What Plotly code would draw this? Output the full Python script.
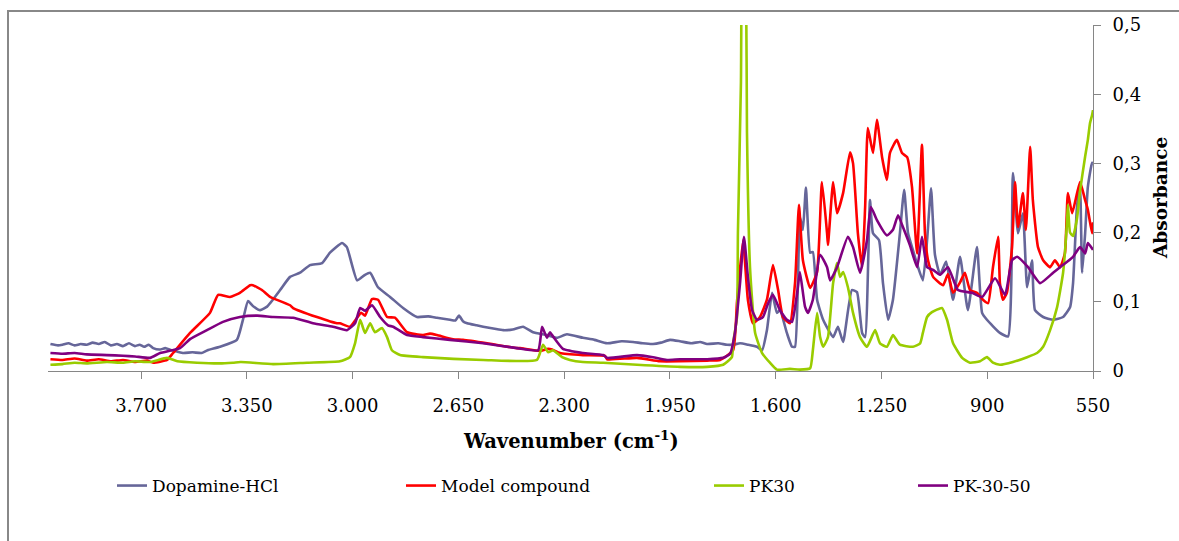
import plotly.graph_objects as go

# ---------------- data ----------------
series_names = ["Dopamine-HCl", "Model compound", "PK30", "PK-30-50"]
series_colors = ["#666699", "#FF0000", "#99CC00", "#800080"]

wn_dop = [4000, 3975, 3960, 3940, 3920, 3900, 3880, 3860, 3840, 3820, 3800, 3780, 3760, 3740, 3720, 3705, 3690, 3675, 3660, 3637,
          3620, 3600, 3580, 3560, 3530, 3500, 3480, 3439, 3383, 3363, 3346,
          3330, 3306, 3283, 3273, 3240, 3207, 3174, 3141, 3101, 3075, 3035, 3019, 2985, 2959, 2942, 2916, 2876, 2833, 2787, 2750, 2721,
          2678, 2660, 2648, 2635, 2621, 2590, 2568, 2530, 2502, 2470, 2436, 2403, 2357, 2324, 2291, 2238, 2200, 2158, 2110, 2072, 2040, 2006, 1980, 1950, 1917, 1880, 1850, 1827, 1790, 1761,
          1741, 1718, 1692, 1662, 1645, 1629, 1612, 1596, 1586, 1563, 1546, 1536, 1520, 1510, 1500, 1486, 1477, 1463, 1443, 1410,
          1394, 1377, 1348, 1331, 1314, 1304, 1288, 1278, 1258, 1245, 1228, 1212, 1189, 1175, 1162, 1146, 1129, 1113, 1099, 1086,
          1073, 1056, 1036, 1013, 990, 964, 934, 917, 901, 858, 831, 815, 798, 782, 768, 752, 742, 715, 682, 649,
          626, 616, 603, 593, 586, 576, 567, 553, 550]
abs_dop = [0.039, 0.037, 0.038, 0.040, 0.037, 0.039, 0.038, 0.041, 0.039, 0.042, 0.037, 0.039, 0.036, 0.040, 0.036, 0.038, 0.035, 0.038, 0.033, 0.031,
           0.033, 0.030, 0.028, 0.026, 0.027, 0.026, 0.030, 0.035, 0.045, 0.074, 0.101,
           0.094, 0.088, 0.093, 0.098, 0.117, 0.136, 0.142, 0.153, 0.156, 0.171, 0.185, 0.179, 0.131, 0.139, 0.142, 0.121, 0.107, 0.091, 0.078, 0.079, 0.077,
           0.074, 0.073, 0.080, 0.072, 0.069, 0.066, 0.064, 0.061, 0.059, 0.060, 0.064, 0.056, 0.052, 0.048, 0.053, 0.048, 0.045, 0.040, 0.043, 0.042, 0.040, 0.039, 0.041, 0.045, 0.043, 0.040, 0.042, 0.039, 0.040, 0.038,
           0.038, 0.040, 0.038, 0.035, 0.030, 0.059, 0.113, 0.084, 0.088, 0.055, 0.035, 0.035, 0.223, 0.204, 0.265, 0.171, 0.172, 0.103, 0.074, 0.049,
           0.064, 0.042, 0.117, 0.114, 0.055, 0.049, 0.247, 0.199, 0.189, 0.127, 0.074, 0.103, 0.199, 0.262, 0.199, 0.175, 0.150, 0.131, 0.189, 0.264,
           0.168, 0.139, 0.158, 0.103, 0.165, 0.088, 0.179, 0.084, 0.074, 0.055, 0.050, 0.286, 0.199, 0.228, 0.121, 0.160, 0.088, 0.078, 0.074, 0.078,
           0.092, 0.127, 0.237, 0.266, 0.142, 0.199, 0.266, 0.301, 0.300]

wn_mod = [4000, 3960, 3920, 3880, 3840, 3800, 3760, 3720, 3680, 3660, 3614, 3594, 3538, 3472, 3445, 3406, 3373, 3339, 3330, 3300,
          3273, 3263, 3207, 3197, 3118, 3052, 3042, 3009, 2972, 2959, 2936, 2916, 2886, 2860, 2820, 2767, 2744, 2721, 2668, 2635,
          2555, 2456, 2446, 2380, 2353, 2340, 2314, 2238, 2165, 2158, 2059, 1983, 1917, 1827, 1784, 1741, 1728, 1708, 1692, 1675,
          1652, 1629, 1609, 1592, 1576, 1553, 1536, 1523, 1510, 1486, 1463, 1447, 1430, 1427, 1410, 1397, 1377, 1354, 1344, 1328,
          1314, 1304, 1295, 1278, 1265, 1248, 1232, 1222, 1199, 1182, 1165, 1149, 1132, 1116, 1106, 1096, 1079, 1046, 1030, 1013,
          990, 974, 957, 934, 914, 897, 881, 864, 858, 848, 835, 818, 808, 798, 782, 772, 758, 749, 732, 715,
          692, 676, 659, 643, 633, 619, 593, 576, 567, 553, 550]
abs_mod = [0.017, 0.016, 0.018, 0.015, 0.017, 0.014, 0.016, 0.013, 0.015, 0.012, 0.016, 0.026, 0.055, 0.084, 0.110, 0.107, 0.113, 0.124, 0.124, 0.117,
           0.107, 0.105, 0.095, 0.091, 0.078, 0.069, 0.069, 0.064, 0.084, 0.080, 0.104, 0.103, 0.078, 0.077, 0.056, 0.052, 0.054, 0.052, 0.046, 0.045,
           0.040, 0.033, 0.033, 0.029, 0.032, 0.031, 0.026, 0.023, 0.022, 0.017, 0.019, 0.014, 0.014, 0.015, 0.016, 0.030, 0.100, 0.189, 0.103, 0.069,
           0.078, 0.103, 0.153, 0.117, 0.078, 0.069, 0.127, 0.240, 0.160, 0.120, 0.143, 0.273, 0.199, 0.182, 0.273, 0.228, 0.257, 0.316, 0.300, 0.199,
           0.150, 0.237, 0.351, 0.315, 0.363, 0.309, 0.276, 0.315, 0.334, 0.315, 0.309, 0.266, 0.170, 0.327, 0.199, 0.160, 0.136, 0.124, 0.140, 0.113,
           0.128, 0.142, 0.117, 0.113, 0.103, 0.098, 0.150, 0.194, 0.127, 0.103, 0.113, 0.179, 0.273, 0.208, 0.257, 0.204, 0.324, 0.247, 0.179, 0.160,
           0.150, 0.160, 0.150, 0.170, 0.257, 0.228, 0.273, 0.247, 0.233, 0.199, 0.215]

wn_pk30 = [4000, 3960, 3920, 3880, 3813, 3760, 3720, 3670, 3614, 3580, 3515, 3440, 3396, 3370, 3263, 3151, 3042, 3009, 2992, 2975,
           2959, 2942, 2926, 2903, 2886, 2870, 2843, 2767, 2568, 2390, 2370, 2353, 2337, 2307, 2281, 2238, 2171, 2059, 1917, 1827,
           1774, 1745, 1741, 1728, 1725, 1715, 1711, 1705, 1698, 1695, 1685, 1668, 1645, 1619, 1596, 1553, 1520, 1486, 1477, 1463,
           1453, 1443, 1427, 1410, 1397, 1387, 1377, 1361, 1344, 1321, 1298, 1271, 1255, 1232, 1212, 1189, 1146, 1122, 1113, 1099,
           1083, 1050, 1033, 1013, 983, 957, 924, 901, 881, 858, 815, 768, 735, 715, 692, 669, 649, 636, 633, 626,
           616, 603, 593, 576, 567, 560, 553, 550]
abs_pk30 = [0.009, 0.010, 0.012, 0.011, 0.013, 0.012, 0.014, 0.013, 0.019, 0.014, 0.012, 0.011, 0.012, 0.013, 0.010, 0.012, 0.014, 0.020, 0.040, 0.074,
            0.055, 0.069, 0.056, 0.062, 0.049, 0.030, 0.023, 0.020, 0.016, 0.016, 0.038, 0.027, 0.030, 0.020, 0.016, 0.013, 0.012, 0.009, 0.006, 0.006,
            0.009, 0.020, 0.040, 0.078, 0.199, 0.417, 0.620, 0.600, 0.550, 0.345, 0.150, 0.055, 0.026, 0.012, 0.002, 0.003, 0.002, 0.004, 0.030, 0.084,
            0.049, 0.035, 0.049, 0.127, 0.156, 0.136, 0.143, 0.121, 0.084, 0.049, 0.035, 0.059, 0.040, 0.035, 0.052, 0.038, 0.035, 0.040, 0.055, 0.078,
            0.085, 0.091, 0.074, 0.040, 0.019, 0.012, 0.014, 0.020, 0.012, 0.009, 0.013, 0.020, 0.026, 0.035, 0.059, 0.092, 0.142, 0.215, 0.240, 0.200,
            0.195, 0.220, 0.260, 0.310, 0.334, 0.358, 0.370, 0.377]

wn_pk3050 = [4000, 3960, 3920, 3880, 3813, 3760, 3720, 3670, 3637, 3571, 3538, 3482, 3429, 3373, 3316, 3263, 3197, 3131, 3065, 3019,
             2992, 2975, 2959, 2936, 2909, 2883, 2866, 2820, 2767, 2678, 2568, 2456, 2386, 2373, 2357, 2347, 2337, 2304, 2238, 2171,
             2158, 2059, 2006, 1960, 1917, 1827, 1774, 1751, 1735, 1718, 1705, 1692, 1678, 1662, 1642, 1625, 1609, 1586, 1563, 1546,
             1529, 1520, 1503, 1493, 1477, 1453, 1430, 1420, 1397, 1361, 1344, 1321, 1298, 1285, 1265, 1232, 1212, 1195, 1179, 1156,
             1132, 1116, 1099, 1079, 1056, 1030, 997, 950, 917, 874, 841, 818, 801, 765, 725, 682, 659, 616, 593, 576,
             567, 550]
abs_pk3050 = [0.026, 0.025, 0.026, 0.024, 0.023, 0.022, 0.021, 0.019, 0.026, 0.033, 0.046, 0.059, 0.071, 0.078, 0.080, 0.078, 0.077, 0.069, 0.064, 0.059,
              0.069, 0.091, 0.087, 0.095, 0.078, 0.066, 0.064, 0.052, 0.049, 0.045, 0.040, 0.033, 0.030, 0.064, 0.048, 0.056, 0.050, 0.032, 0.026, 0.023,
              0.019, 0.023, 0.020, 0.016, 0.017, 0.017, 0.019, 0.025, 0.055, 0.127, 0.194, 0.136, 0.088, 0.074, 0.078, 0.098, 0.110, 0.088, 0.074, 0.071,
              0.113, 0.143, 0.093, 0.084, 0.103, 0.168, 0.150, 0.131, 0.150, 0.194, 0.179, 0.142, 0.189, 0.237, 0.218, 0.196, 0.204, 0.225, 0.208, 0.182,
              0.150, 0.194, 0.150, 0.146, 0.139, 0.150, 0.117, 0.113, 0.107, 0.134, 0.110, 0.160, 0.165, 0.150, 0.127, 0.142, 0.150, 0.165, 0.179, 0.170,
              0.185, 0.175]

x_tick_vals = [3700, 3350, 3000, 2650, 2300, 1950, 1600, 1250, 900, 550]
x_tick_text = ["3.700", "3.350", "3.000", "2.650", "2.300", "1.950", "1.600", "1.250", "900", "550"]
y_tick_vals = [0, 0.1, 0.2, 0.3, 0.4, 0.5]
y_tick_text = ["0", "0,1", "0,2", "0,3", "0,4", "0,5"]

x_title = "<b>Wavenumber (cm<sup>-1</sup>)</b>"
y_title = "<b>Absorbance</b>"

# ---------------- figure ----------------
W, H = 1179, 541
ML, MR, MT, MB = 48, 86, 25, 170
PW, PH = W - ML - MR, H - MT - MB

def px_x(p):
    return (p - ML) / PW

def px_y(p):
    return (H - MB - p) / PH

FONT = "DejaVu Serif"
AXIS_GRAY = "#868686"

xs = [wn_dop, wn_mod, wn_pk30, wn_pk3050]
ys = [abs_dop, abs_mod, abs_pk30, abs_pk3050]
legend_ids = ["legend", "legend2", "legend3", "legend4"]
legend_px = [112, 401, 709, 913]

fig = go.Figure()
for name, color, x, y, lg in zip(series_names, series_colors, xs, ys, legend_ids):
    fig.add_trace(go.Scatter(x=x, y=y, mode="lines", name=name, legend=lg,
                             line=dict(color=color, width=2.6, shape="spline", smoothing=0.45)))

layout_legends = {}
for lg, p in zip(legend_ids, legend_px):
    layout_legends[lg] = dict(
        x=px_x(p), xanchor="left", y=px_y(486), yanchor="middle",
        orientation="h", bgcolor="rgba(0,0,0,0)", borderwidth=0,
        font=dict(family=FONT, size=17, color="#000000"),
        itemwidth=30, tracegroupgap=0,
    )

fig.update_layout(
    width=W, height=H,
    margin=dict(l=ML, r=MR, t=MT, b=MB, pad=0),
    paper_bgcolor="white", plot_bgcolor="white",
    showlegend=True,
    font=dict(family=FONT, size=17, color="#000000"),
    xaxis=dict(
        range=[4008, 550], tickvals=x_tick_vals, ticktext=x_tick_text,
        ticks="outside", ticklen=7, tickwidth=1, tickcolor=AXIS_GRAY,
        showline=True, linecolor=AXIS_GRAY, linewidth=1,
        showgrid=False, zeroline=False, ticklabelstandoff=11,
        tickfont=dict(family=FONT, size=18, color="#000000"),
    ),
    yaxis=dict(
        range=[0, 0.5], side="right", tickvals=y_tick_vals, ticktext=y_tick_text,
        ticks="outside", ticklen=7, tickwidth=1, tickcolor=AXIS_GRAY,
        showline=True, linecolor=AXIS_GRAY, linewidth=1,
        showgrid=False, zeroline=False, ticklabelstandoff=8,
        tickfont=dict(family=FONT, size=18, color="#000000"),
    ),
    annotations=[
        dict(text=x_title, xref="paper", yref="paper", x=0.5, y=px_y(440),
             xanchor="center", yanchor="middle", showarrow=False,
             font=dict(family=FONT, size=19.5, color="#000000")),
        dict(text=y_title, xref="paper", yref="paper", x=px_x(1160), y=0.5,
             xanchor="center", yanchor="middle", showarrow=False, textangle=-90,
             font=dict(family=FONT, size=18.5, color="#000000")),
    ],
    shapes=[
        dict(type="rect", xref="paper", yref="paper",
             x0=px_x(8), x1=px_x(1300), y0=px_y(700), y1=px_y(11),
             line=dict(color="#888888", width=2), fillcolor="rgba(0,0,0,0)", layer="above"),
    ],
    **layout_legends,
)

fig.write_html("out.html")
